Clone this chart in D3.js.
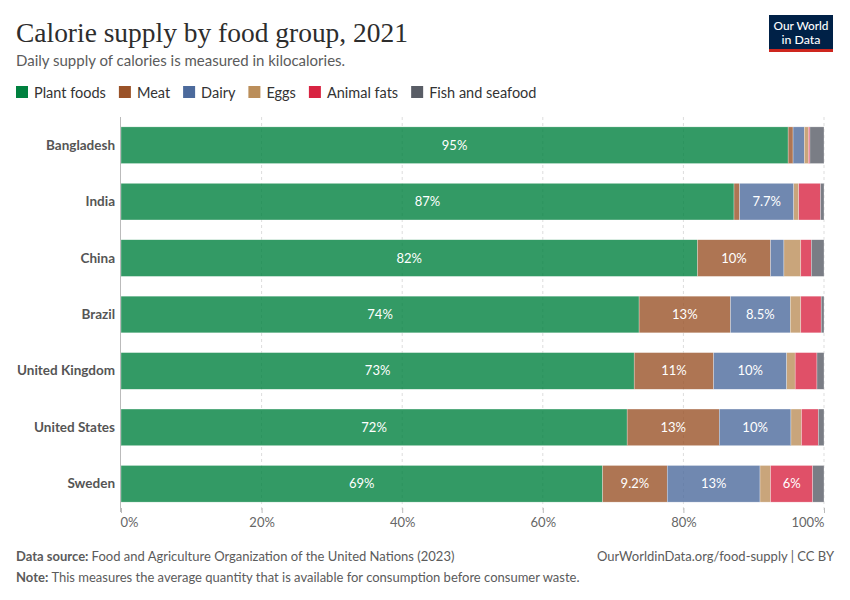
<!DOCTYPE html>
<html><head><meta charset="utf-8">
<script src="https://cdn.jsdelivr.net/npm/d3@7"></script>
<style>
html,body{margin:0;padding:0;background:#fff;}
svg{display:block;font-family:Lato,"Noto Sans",sans-serif;}
</style></head>
<body><svg id="chart" width="850" height="600"></svg>
<script>
const countries = ["Bangladesh","India","China","Brazil","United Kingdom","United States","Sweden"];
const groups = ["Plant foods","Meat","Dairy","Eggs","Animal fats","Fish and seafood"];
const legendColors = ["#00813f","#9a5228","#4c6a9c","#bb8e5a","#d82442","#595d66"];
const plantFoods = [94.9, 87.2, 82.0, 73.7, 73.0, 72.0, 68.5];
const meat       = [0.7, 0.8, 10.4, 13.0, 11.3, 13.1, 9.2];
const dairy      = [1.6, 7.7, 1.9, 8.5, 10.4, 10.2, 13.2];
const eggs       = [0.6, 0.7, 2.4, 1.5, 1.2, 1.5, 1.5];
const animalFats = [0.2, 3.1, 1.5, 2.9, 3.1, 2.4, 6.0];
const fish       = [2.0, 0.5, 1.8, 0.4, 1.0, 0.8, 1.6];
const xTicks = [0, 20, 40, 60, 80, 100];
const seriesValues = [plantFoods, meat, dairy, eggs, animalFats, fish];

const rows = countries.map((c, i) => {
  const r = {country: c};
  groups.forEach((g, j) => r[g] = seriesValues[j][i]);
  return r;
});
const stacked = d3.stack().keys(groups)(rows);

const svg = d3.select("#chart");
const color = d3.scaleOrdinal().domain(groups).range(legendColors);
const x = d3.scaleLinear().domain([0, 100]).range([121, 824]);
const y = d3.scaleBand().domain(countries).range([117, 512]).paddingInner(0.35).paddingOuter(0.175);

// Title
svg.append("text").attr("x", 16).attr("y", 42)
  .attr("font-family", "'Liberation Serif','DejaVu Serif',serif")
  .attr("font-size", 28).attr("fill", "#2d2d2d")
  .attr("textLength", 392).attr("lengthAdjust", "spacingAndGlyphs")
  .text("Calorie supply by food group, 2021");
svg.append("text").attr("x", 16).attr("y", 66)
  .attr("font-size", 15).attr("fill", "#5b5b5b")
  .text("Daily supply of calories is measured in kilocalories.");

// Logo
const logo = svg.append("g");
logo.append("rect").attr("x", 769).attr("y", 15).attr("width", 64).attr("height", 37).attr("fill", "#002147");
logo.append("rect").attr("x", 769).attr("y", 49).attr("width", 64).attr("height", 3).attr("fill", "#ce261e");
logo.append("text").attr("x", 801).attr("y", 30).attr("text-anchor", "middle").attr("fill", "#fff")
  .attr("font-size", 11.5).attr("font-weight", 500).attr("textLength", 55).attr("lengthAdjust", "spacingAndGlyphs").text("Our World");
logo.append("text").attr("x", 801).attr("y", 44).attr("text-anchor", "middle").attr("fill", "#fff")
  .attr("font-size", 11.5).attr("font-weight", 500).attr("textLength", 39).attr("lengthAdjust", "spacingAndGlyphs").text("in Data");

// Legend
let lx = 16;
groups.forEach((g, j) => {
  const item = svg.append("g");
  item.append("rect").attr("x", lx).attr("y", 86).attr("width", 12).attr("height", 12).attr("fill", legendColors[j]);
  const t = item.append("text").attr("x", lx + 18).attr("y", 97.5).attr("font-size", 14.5).attr("fill", "#333").text(g);
  lx += 18 + t.node().getComputedTextLength() + 13;
});

// Gridlines
svg.append("g").selectAll("line").data(xTicks.slice(1)).join("line")
  .attr("x1", d => x(d)).attr("x2", d => x(d))
  .attr("y1", 117).attr("y2", 511)
  .attr("stroke", "#ddd").attr("stroke-dasharray", "3,3");

// Bars
const layer = svg.append("g").selectAll("g").data(stacked).join("g")
  .attr("fill", d => color(d.key)).attr("fill-opacity", 0.8);
layer.selectAll("rect").data(d => d).join("rect")
  .attr("x", d => x(d[0])).attr("width", d => x(d[1]) - x(d[0]))
  .attr("y", d => y(d.data.country)).attr("height", y.bandwidth())
  .attr("stroke", "#fff").attr("stroke-width", 0.5).attr("stroke-opacity", 0.6);

// Value labels
const fmt = d3.format(".2~r");
stacked.forEach(s => {
  s.forEach(d => {
    const v = d[1] - d[0];
    if (x(d[1]) - x(d[0]) < 38) return;
    svg.append("text")
      .attr("x", (x(d[0]) + x(d[1])) / 2).attr("y", y(d.data.country) + y.bandwidth() / 2 + 4.5)
      .attr("text-anchor", "middle").attr("font-size", 13).attr("fill", "#fff")
      .text(fmt(v) + "%");
  });
});

// Y axis line and labels
svg.append("line").attr("x1", 120.5).attr("x2", 120.5).attr("y1", 117).attr("y2", 512)
  .attr("stroke", "#bbb").attr("stroke-width", 1);
svg.append("g").selectAll("text").data(countries).join("text")
  .attr("x", 115).attr("y", d => y(d) + y.bandwidth() / 2 + 4.5)
  .attr("text-anchor", "end").attr("font-size", 13.5).attr("font-weight", 700).attr("fill", "#555")
  .text(d => d);

// X axis
const xAxis = d3.axisBottom(x).tickValues(xTicks).tickFormat(d => d + "%").tickSize(5);
const gx = svg.append("g").attr("transform", "translate(0,508)").call(xAxis);
gx.select(".domain").remove();
gx.selectAll(".tick line").attr("stroke", "#bbb");
gx.selectAll(".tick text").attr("font-family", "Lato,sans-serif").attr("font-size", 13).attr("fill", "#666")
  .attr("dy", "0.5em").attr("y", 12)
  .attr("text-anchor", (d, i) => i === 0 ? "start" : (i === xTicks.length - 1 ? "end" : "middle"))
  .attr("dx", (d, i) => i === 0 ? -1 : 0);

// Footer
const f1 = svg.append("text").attr("x", 16).attr("y", 561).attr("font-size", 13).attr("fill", "#5b5b5b");
f1.append("tspan").attr("font-weight", 700).text("Data source: ");
f1.append("tspan").text("Food and Agriculture Organization of the United Nations (2023)");
svg.append("text").attr("x", 834).attr("y", 561).attr("text-anchor", "end").attr("font-size", 13).attr("fill", "#5b5b5b")
  .text("OurWorldinData.org/food-supply | CC BY");
const f2 = svg.append("text").attr("x", 16).attr("y", 582).attr("font-size", 13).attr("fill", "#5b5b5b");
f2.append("tspan").attr("font-weight", 700).text("Note: ");
f2.append("tspan").text("This measures the average quantity that is available for consumption before consumer waste.");
</script></body></html>
